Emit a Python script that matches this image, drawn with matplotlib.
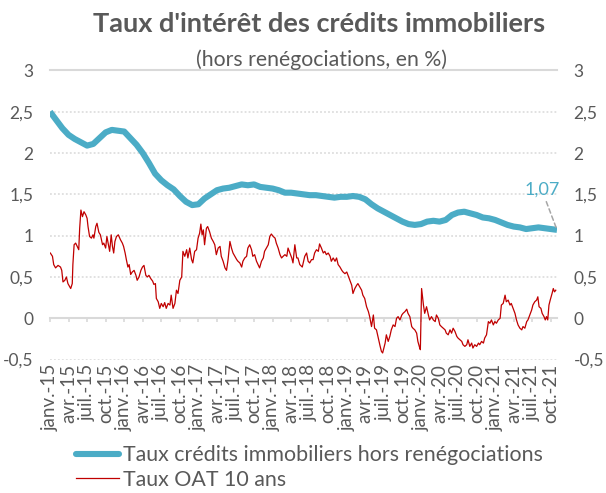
import numpy as np
import matplotlib
matplotlib.use("Agg")
import matplotlib.pyplot as plt
from matplotlib.lines import Line2D

plt.rcParams['font.family'] = ['Lato', 'DejaVu Sans']

# ---------------- data ----------------
# Taux crédits immobiliers hors renégociations, monthly, janv. 2015 -> nov. 2021
credit_rate = [
    2.50, 2.40, 2.30, 2.22, 2.17, 2.13, 2.09, 2.11, 2.18, 2.25, 2.28, 2.27,   # 2015
    2.26, 2.18, 2.10, 2.00, 1.88, 1.75, 1.67, 1.61, 1.56, 1.48, 1.41, 1.37,   # 2016
    1.38, 1.45, 1.50, 1.55, 1.57, 1.58, 1.60, 1.62, 1.61, 1.62, 1.59, 1.58,   # 2017
    1.57, 1.55, 1.52, 1.52, 1.51, 1.50, 1.49, 1.49, 1.48, 1.47, 1.46, 1.47,   # 2018
    1.47, 1.48, 1.47, 1.44, 1.38, 1.33, 1.29, 1.25, 1.21, 1.17, 1.14, 1.13,   # 2019
    1.14, 1.17, 1.18, 1.17, 1.19, 1.25, 1.28, 1.29, 1.27, 1.25, 1.22, 1.21,   # 2020
    1.19, 1.16, 1.13, 1.11, 1.10, 1.08, 1.09, 1.10, 1.09, 1.08, 1.07,         # 2021
]

# Taux OAT 10 ans: time in months since janv. 2015, value in %
oat_t = [
    0.05, 0.4, 0.6, 0.9, 1.3, 1.7, 1.9, 2.1, 2.4, 2.65, 2.9, 3.35, 3.6, 3.7, 3.9,
    4.15, 4.4, 4.65, 4.8, 5.0, 5.25, 5.5, 5.8, 6.0, 6.15, 6.4, 6.7, 6.95, 7.1,
    7.4, 7.6, 7.9, 8.15, 8.5, 8.7, 9.0, 9.2, 9.45, 9.65, 9.9, 10.1, 10.3, 10.5,
    10.75, 11.05, 11.4, 11.7, 11.9, 12.15, 12.35, 12.6, 12.8, 13.05, 13.3, 13.6,
    13.9, 14.1, 14.4, 14.7, 14.95, 15.2, 15.5, 15.75, 16.0, 16.3, 16.6, 16.8,
    17.05, 17.2, 17.5, 17.75, 18.0, 18.3, 18.55, 18.8, 19.1, 19.4, 19.6, 19.9,
    20.2, 20.45, 20.7, 21.0, 21.3, 21.5, 21.8, 22.1, 22.3, 22.6, 22.9, 23.1,
    23.4, 23.7, 23.95, 24.2, 24.4, 24.6, 24.8, 25.0, 25.3, 25.5, 25.8, 26.1,
    26.4, 26.65, 26.9, 27.2, 27.5, 27.7, 28.0, 28.3, 28.55, 28.8, 29.1, 29.35,
    29.6, 29.9, 30.2, 30.4, 30.7, 31.0, 31.2, 31.5, 31.8, 32.0, 32.3, 32.6,
    32.8, 33.1, 33.4, 33.65, 33.9, 34.2, 34.5, 34.7, 35.0, 35.3, 35.55, 35.8,
    36.1, 36.4, 36.6, 36.9, 37.2, 37.45, 37.7, 38.0, 38.3, 38.5, 38.8, 39.1,
    39.3, 39.6, 39.9, 40.1, 40.4, 40.8, 41.2, 41.5, 41.75, 42.0, 42.3, 42.55,
    42.8, 43.1, 43.4, 43.6, 43.9, 44.2, 44.45, 44.7, 45.0, 45.3, 45.5, 45.8,
    46.1, 46.35, 46.6, 46.9, 47.2, 47.4, 47.7, 48.0, 48.2, 48.5, 48.8, 49.0,
    49.3, 49.6, 49.8, 50.1, 50.4, 50.6, 50.9, 51.2, 51.5, 51.7, 52.0, 52.3,
    52.5, 52.8, 53.1, 53.4, 53.6, 53.8, 54.0, 54.2, 54.4, 54.7, 54.96, 55.2,
    55.5, 55.8, 56.05, 56.3, 56.6, 56.9, 57.1, 57.4, 57.7, 57.9, 58.2, 58.5,
    58.7, 59.0, 59.3, 59.5, 59.8, 59.9, 60.1, 60.4, 60.6, 60.9, 61.2, 61.4,
    61.7, 62.0, 62.3, 62.5, 62.8, 63.05, 63.3, 63.6, 63.9, 64.1, 64.4, 64.7,
    64.95, 65.2, 65.5, 65.8, 66.0, 66.3, 66.6, 66.8, 67.1, 67.4, 67.6, 67.9,
    68.2, 68.4, 68.7, 69.0, 69.3, 69.5, 69.8, 70.1, 70.3, 70.6, 70.9, 71.15,
    71.4, 71.7, 71.95, 72.2, 72.5, 72.8, 73.0, 73.3, 73.6, 73.8, 74.1, 74.4,
    74.6, 74.9, 75.2, 75.45, 75.7, 76.0, 76.3, 76.5, 76.8, 77.1, 77.3, 77.6,
    77.9, 78.1, 78.4, 78.7, 78.9, 79.1, 79.4, 79.6, 79.9, 80.1, 80.3, 80.5,
    80.7, 80.9, 81.2, 81.4, 81.6, 81.8,
]
oat_rate = [
    0.79, 0.75, 0.65, 0.61, 0.64, 0.62, 0.58, 0.44, 0.46, 0.50, 0.42, 0.36, 0.42, 0.65, 0.89,
    0.91, 0.87, 0.83, 1.09, 1.31, 1.23, 1.29, 1.25, 1.21, 1.11, 0.99, 0.97, 1.01, 0.97,
    1.11, 1.15, 1.04, 1.01, 0.89, 0.91, 0.85, 0.99, 0.89, 0.81, 1.01, 0.87, 0.79, 0.93,
    0.99, 1.01, 0.95, 0.91, 0.87, 0.79, 0.71, 0.62, 0.65, 0.53, 0.56, 0.58,
    0.52, 0.46, 0.50, 0.58, 0.62, 0.64, 0.52, 0.50, 0.52, 0.48, 0.45, 0.41,
    0.42, 0.24, 0.20, 0.12, 0.18, 0.14, 0.19, 0.12, 0.18, 0.16, 0.28, 0.12,
    0.18, 0.34, 0.30, 0.46, 0.50, 0.81, 0.75, 0.83, 0.73, 0.85, 0.71, 0.67,
    0.81, 0.83, 0.97, 1.03, 1.14, 1.01, 1.07, 0.89, 1.09, 1.11, 1.05, 0.97,
    0.93, 0.89, 0.77, 0.85, 0.87, 0.75, 0.69, 0.61, 0.58, 0.71, 0.93, 0.85,
    0.79, 0.75, 0.71, 0.69, 0.67, 0.62, 0.69, 0.73, 0.75, 0.85, 0.89, 0.83,
    0.75, 0.77, 0.69, 0.65, 0.61, 0.69, 0.73, 0.81, 0.85, 0.89, 0.99, 1.02,
    0.99, 0.97, 0.91, 0.85, 0.77, 0.73, 0.75, 0.77, 0.75, 0.85, 0.79, 0.73,
    0.67, 0.89, 0.73, 0.73, 0.65, 0.62, 0.75, 0.79, 0.69, 0.67, 0.71, 0.71,
    0.79, 0.83, 0.81, 0.90, 0.85, 0.79, 0.81, 0.77, 0.79, 0.75, 0.69, 0.73,
    0.69, 0.73, 0.65, 0.62, 0.58, 0.56, 0.54, 0.56, 0.52, 0.46, 0.40, 0.30,
    0.36, 0.40, 0.42, 0.38, 0.34, 0.28, 0.24, 0.14, 0.08, 0.02, -0.10, 0.04,
    -0.12, -0.14, -0.24, -0.34, -0.40, -0.42, -0.36, -0.30, -0.20, -0.28, -0.22, -0.14,
    -0.08, -0.10, 0.00, 0.02, -0.02, 0.04, 0.06, 0.08, 0.11, 0.06, 0.02, -0.10,
    -0.12, -0.14, -0.18, -0.28, -0.36, -0.38, 0.36, 0.16, 0.06, 0.14, 0.04, -0.02,
    0.02, -0.02, -0.04, 0.04, 0.00, -0.08, -0.10, -0.12, -0.14, -0.18, -0.20, -0.14,
    -0.18, -0.12, -0.16, -0.22, -0.24, -0.26, -0.28, -0.32, -0.34, -0.32, -0.26, -0.34,
    -0.30, -0.36, -0.32, -0.34, -0.30, -0.32, -0.28, -0.30, -0.24, -0.20, -0.04, -0.06,
    -0.02, -0.08, -0.04, -0.06, -0.02, 0.00, 0.16, 0.18, 0.28, 0.20, 0.22, 0.16,
    0.18, 0.12, 0.06, -0.02, -0.08, -0.12, -0.14, -0.10, -0.12, -0.04, -0.02, 0.04,
    0.10, 0.16, 0.20, 0.22, 0.26, 0.14, 0.12, 0.06, 0.02, -0.02, 0.02, -0.02,
    0.16, 0.22, 0.30, 0.36, 0.32, 0.34,
]

quarter_names = ["janv.", "avr.", "juil.", "oct."]
years = ["15", "16", "17", "18", "19", "20", "21"]
x_tick_labels = [f"{q}-{y}" for y in years for q in quarter_names]

y_ticks = [-0.5, 0, 0.5, 1, 1.5, 2, 2.5, 3]
y_tick_labels = ["-0,5", "0", "0,5", "1", "1,5", "2", "2,5", "3"]

last_label = "1,07"

title = "Taux d'intérêt des crédits immobiliers"
subtitle = "(hors renégociations, en %)"
series_names = ["Taux crédits immobiliers hors renégociations", "Taux OAT 10 ans"]

# ---------------- style ----------------
TEAL = "#4BACC6"
RED = "#C00000"
GRID = "#D9D9D9"
TXT = "#595959"

W, H = 606, 493
fig = plt.figure(figsize=(W / 100, H / 100), dpi=100)
ax = fig.add_axes([50 / W, 1 - 359.6 / H, 507 / W, 289.2 / H])

months = np.arange(len(credit_rate))
ax.plot(months, credit_rate, color=TEAL, lw=4.4, solid_capstyle="butt",
        solid_joinstyle="round", zorder=3)
ax.plot(oat_t, oat_rate, color=RED, lw=0.9, zorder=4)

ax.set_xlim(0, len(credit_rate) - 1)
ax.set_ylim(-0.5, 3)

# y axis labels on both sides
ax.set_yticks(y_ticks)
ax.set_yticklabels(y_tick_labels)
ax.tick_params(axis="y", length=0, labelleft=True, labelright=True,
               labelsize=12.5, labelcolor=TXT, pad=12)
ax.yaxis.grid(True, color=GRID, lw=1.1, linestyle=(0, (1.2, 1.4)))
ax.set_axisbelow(True)

for s in ["left", "right"]:
    ax.spines[s].set_visible(False)
ax.spines["top"].set_color(GRID)
ax.spines["top"].set_linewidth(1.5)
ax.spines["bottom"].set_position(("data", 0))
ax.spines["bottom"].set_color(GRID)
ax.spines["bottom"].set_linewidth(1.5)

q_pos = np.arange(0, len(credit_rate), 3)[:len(x_tick_labels)]
ax.set_xticks(q_pos)
ax.tick_params(axis="x", direction="out", length=3, width=1.2, color=GRID,
               labelbottom=False)

sec = ax.secondary_xaxis("bottom")
sec.set_xticks(q_pos)
sec.set_xticklabels(x_tick_labels, rotation=90)
sec.tick_params(length=0, pad=3, labelsize=13.5, labelcolor=TXT)
sec.spines["bottom"].set_visible(False)

# annotation of last value
ax.annotate(last_label, xy=(months[-1], credit_rate[-1]), xytext=(-11, 29),
            textcoords="offset points", ha="center", va="center",
            fontsize=13, color=TEAL,
            arrowprops=dict(arrowstyle="-", color="#A6A6A6", lw=1.1,
                            linestyle=(0, (3, 2)), shrinkA=1, shrinkB=0))

# titles
fig.text(319 / W, 1 - 31.7 / H, title, ha="center", va="baseline",
         fontsize=19.5, fontweight="bold", color=TXT)
fig.text(321 / W, 1 - 60 / H, subtitle, ha="center", va="center",
         fontsize=15.3, color=TXT)

# legend
handles = [Line2D([], [], color=TEAL, lw=4.4, solid_capstyle="round"),
           Line2D([], [], color=RED, lw=0.9)]
leg = fig.legend(handles, series_names, loc="upper left",
                 bbox_to_anchor=(76 / W, 1 - 445 / H), frameon=False,
                 fontsize=15.4, labelcolor=TXT, handlelength=2.0,
                 handletextpad=0.2, labelspacing=0.22, borderpad=0,
                 borderaxespad=0)

fig.savefig("out.png", dpi=100)
